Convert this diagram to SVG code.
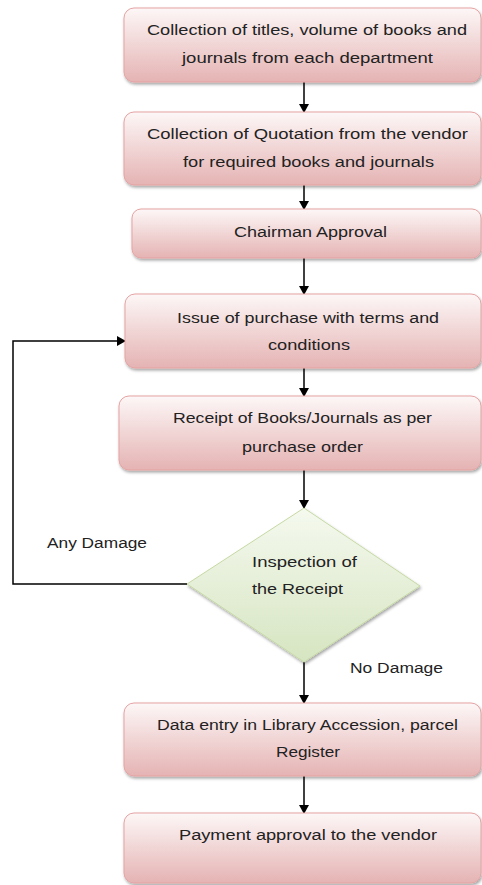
<svg xmlns="http://www.w3.org/2000/svg" width="482" height="885" viewBox="0 0 482 885">
<defs>
<linearGradient id="pink" x1="0" y1="0" x2="0" y2="1">
<stop offset="0" stop-color="#fdf7f7"/>
<stop offset="1" stop-color="#e5b3b3"/>
</linearGradient>
<linearGradient id="green" x1="0" y1="0" x2="0" y2="1">
<stop offset="0" stop-color="#f5f9ef"/>
<stop offset="1" stop-color="#d6e5c1"/>
</linearGradient>
<filter id="sh" x="-10%" y="-10%" width="120%" height="130%">
<feDropShadow dx="1" dy="2" stdDeviation="1.5" flood-color="#000" flood-opacity="0.35"/>
</filter>
<marker id="ah" markerWidth="10" markerHeight="10" refX="8" refY="5" orient="auto" markerUnits="userSpaceOnUse">
<path d="M0,0 L9,5 L0,10 Z" fill="#000"/>
</marker>
<style>
.box{fill:url(#pink);stroke:#e5a3a3;stroke-width:1;filter:url(#sh)}
.dia{fill:url(#green);stroke:#c6d9a4;stroke-width:1;filter:url(#sh)}
text{font-family:"Liberation Sans",Arial,sans-serif;font-size:14px;fill:#222}
.c{stroke:#000;stroke-width:1.5;fill:none}
.a{marker-end:url(#ah)}
</style>
</defs>
<g id="connectors">
<line class="c a" x1="304" y1="82" x2="304" y2="112"/>
<line class="c a" x1="304" y1="185" x2="304" y2="209"/>
<line class="c a" x1="304" y1="258" x2="304" y2="294"/>
<line class="c a" x1="304" y1="368" x2="304" y2="396"/>
<line class="c a" x1="304" y1="470" x2="304" y2="508"/>
<line class="c a" x1="304" y1="662" x2="304" y2="703"/>
<line class="c a" x1="304" y1="776" x2="304" y2="813"/>
<path class="c a" d="M187,584 H13 V341 H125"/>
<text x="47" y="548" textLength="100" lengthAdjust="spacingAndGlyphs">Any Damage</text>
<text x="350" y="673" textLength="93" lengthAdjust="spacingAndGlyphs">No Damage</text>
</g>
<g id="n1">
<rect class="box" x="124" y="8" width="357" height="74" rx="10"/>
<text x="147" y="35" textLength="320" lengthAdjust="spacingAndGlyphs">Collection of titles, volume of books and</text>
<text x="182" y="63" textLength="251" lengthAdjust="spacingAndGlyphs">journals from each department</text>
</g>
<g id="n2">
<rect class="box" x="124" y="112" width="357" height="73" rx="10"/>
<text x="147" y="139" textLength="321" lengthAdjust="spacingAndGlyphs">Collection of Quotation from the vendor</text>
<text x="183" y="167" textLength="251" lengthAdjust="spacingAndGlyphs">for required books and journals</text>
</g>
<g id="n3">
<rect class="box" x="132" y="209" width="349" height="49" rx="9"/>
<text x="234" y="237" textLength="153" lengthAdjust="spacingAndGlyphs">Chairman Approval</text>
</g>
<g id="n4">
<rect class="box" x="125" y="294" width="356" height="74" rx="10"/>
<text x="177" y="323" textLength="262" lengthAdjust="spacingAndGlyphs">Issue of purchase with terms and</text>
<text x="268" y="350" textLength="82" lengthAdjust="spacingAndGlyphs">conditions</text>
</g>
<g id="n5">
<rect class="box" x="119" y="396" width="362" height="74" rx="10"/>
<text x="173" y="423" textLength="259" lengthAdjust="spacingAndGlyphs">Receipt of Books/Journals as per</text>
<text x="242" y="452" textLength="121" lengthAdjust="spacingAndGlyphs">purchase order</text>
</g>
<g id="n6">
<path class="dia" d="M304,508 L420,586 L304,662 L187,584 Z"/>
<text x="252" y="567" textLength="105" lengthAdjust="spacingAndGlyphs">Inspection of</text>
<text x="252" y="594" textLength="91" lengthAdjust="spacingAndGlyphs">the Receipt</text>
</g>
<g id="n7">
<rect class="box" x="124" y="703" width="357" height="73" rx="10"/>
<text x="157" y="730" textLength="301" lengthAdjust="spacingAndGlyphs">Data entry in Library Accession, parcel</text>
<text x="276" y="757" textLength="64" lengthAdjust="spacingAndGlyphs">Register</text>
</g>
<g id="n8">
<rect class="box" x="124" y="813" width="357" height="70" rx="10"/>
<text x="179" y="840" textLength="258" lengthAdjust="spacingAndGlyphs">Payment approval to the vendor</text>
</g>
</svg>
